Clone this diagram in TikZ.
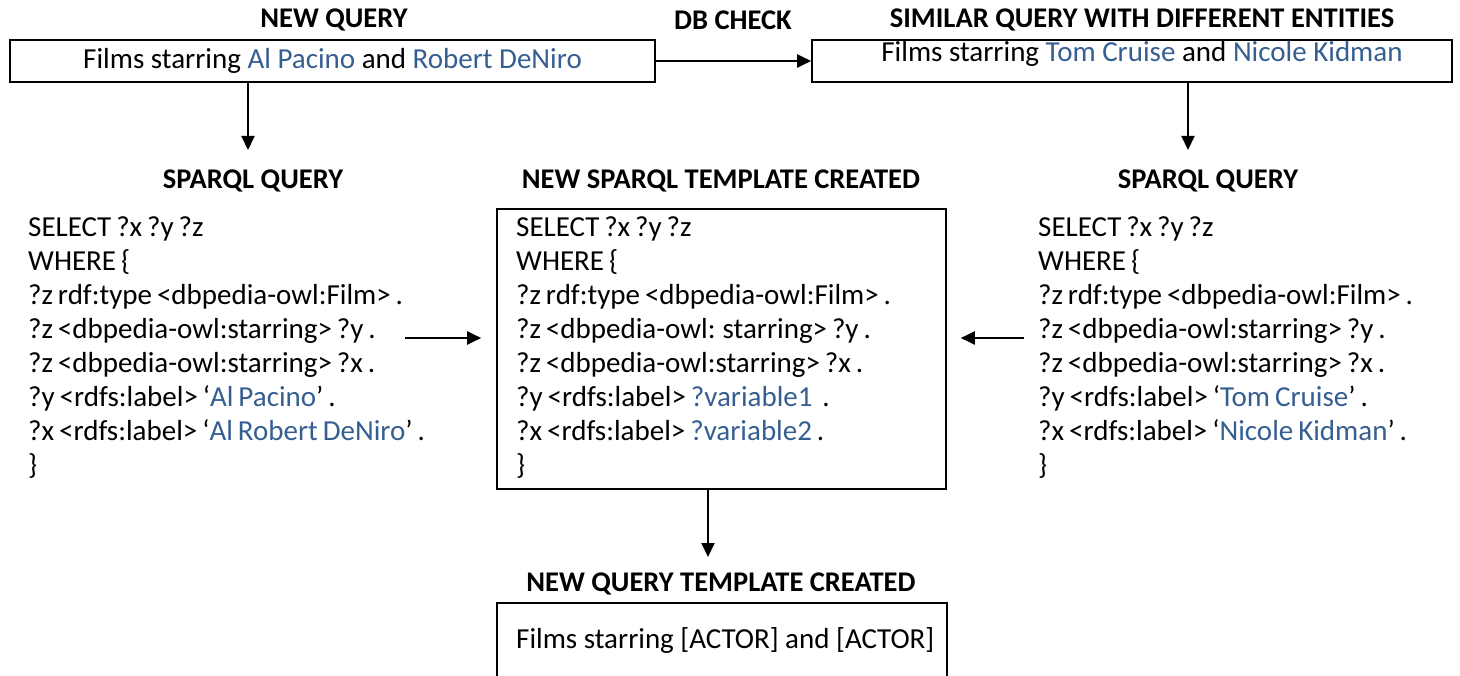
\documentclass[tikz,border=0pt]{standalone}
\usepackage{fontspec}
\setmainfont{Carlito}
\usetikzlibrary{arrows.meta, positioning}
\definecolor{entity}{HTML}{365F91}
\newcommand\codefont{\fontsize{29}{34}\selectfont\spaceskip=0.17em plus 0.05em\relax}

\begin{document}
\begin{tikzpicture}[x=1pt, y=-1pt,
  title/.style={font=\fontsize{28.5}{34}\selectfont\bfseries, inner sep=0pt},
  plain/.style={font=\fontsize{29}{34}\selectfont, inner sep=0pt},
  code/.style={inner sep=0pt, font=\codefont, align=left, anchor=north west},
  box/.style={draw, line width=1.6pt, inner sep=0pt},
  flow/.style={-{Triangle[length=14pt, width=13pt]}, line width=2pt}]
  \clip (0,0) rectangle (1460,676);
  \fill[white] (0,0) rectangle (1460,676);

  \node[title] (newq) at (334,20) {NEW QUERY};
  \node[title] (dbcheck) at (733,20) {DB CHECK};
  \node[title] (simq) at (1142,20) {SIMILAR QUERY WITH DIFFERENT ENTITIES};

  \node[box, plain, minimum width=645pt, minimum height=42pt] (query) at (332.5,61)
    {Films starring \textcolor{entity}{Al Pacino} and \textcolor{entity}{Robert DeNiro}};
  \node[box, minimum width=640pt, minimum height=42pt] (similar) at (1132,61) {};
  \node[plain] (similartxt) at (1142,54)
    {Films starring \textcolor{entity}{Tom Cruise} and \textcolor{entity}{Nicole Kidman}};
  \draw[flow] (query) -- (similar);

  \node[title] (sparqlA) at (253,181) {SPARQL QUERY};
  \node[title] (tmplhead) at (721,181) {NEW SPARQL TEMPLATE CREATED};
  \node[title] (sparqlB) at (1208,181) {SPARQL QUERY};

  \coordinate (downA) at (248,150);
  \coordinate (downB) at (1188,150);
  \draw[flow] (query.south -| downA) -- (downA);
  \draw[flow] (similar.south -| downB) -- (downB);

  \node[code] (codeA) at (28,216) {SELECT ?x ?y ?z\\
    WHERE \{\\
    ?z rdf:type <dbpedia-owl:Film> .\\
    ?z <dbpedia-owl:starring> ?y .\\
    ?z <dbpedia-owl:starring> ?x .\\
    ?y <rdfs:label> `\textcolor{entity}{Al Pacino}' .\\
    ?x <rdfs:label> `\textcolor{entity}{Al Robert DeNiro}' .\\
    \}};

  \node[box, minimum width=449pt, minimum height=280pt] (tmpl) at (721.5,349) {};
  \node[code] (codeT) at (516,216) {SELECT ?x ?y ?z\\
    WHERE \{\\
    ?z rdf:type <dbpedia-owl:Film> .\\
    ?z <dbpedia-owl: starring> ?y .\\
    ?z <dbpedia-owl:starring> ?x .\\
    ?y <rdfs:label> \textcolor{entity}{?variable1}\ \ .\\
    ?x <rdfs:label> \textcolor{entity}{?variable2} .\\
    \}};

  \node[code] (codeB) at (1038,216) {SELECT ?x ?y ?z\\
    WHERE \{\\
    ?z rdf:type <dbpedia-owl:Film> .\\
    ?z <dbpedia-owl:starring> ?y .\\
    ?z <dbpedia-owl:starring> ?x .\\
    ?y <rdfs:label> `\textcolor{entity}{Tom Cruise}' .\\
    ?x <rdfs:label> `\textcolor{entity}{Nicole Kidman}' .\\
    \}};

  \coordinate (fromA) at (405,338);
  \coordinate (fromB) at (1024,338);
  \draw[flow, shorten >=15pt] (fromA) -- (fromA -| tmpl.west);
  \draw[flow, shorten >=14pt] (fromB) -- (fromB -| tmpl.east);

  \coordinate (downT) at (708,557);
  \draw[flow] (tmpl.south -| downT) -- (downT);

  \node[title] (newtmplhead) at (721,584) {NEW QUERY TEMPLATE CREATED};
  \node[box, minimum width=450pt, minimum height=90pt] (newtmpl) at (722,648) {};
  \node[plain, anchor=west] (newtmpltxt) at (516,641) {Films starring [ACTOR] and [ACTOR]};
\end{tikzpicture}
\end{document}
